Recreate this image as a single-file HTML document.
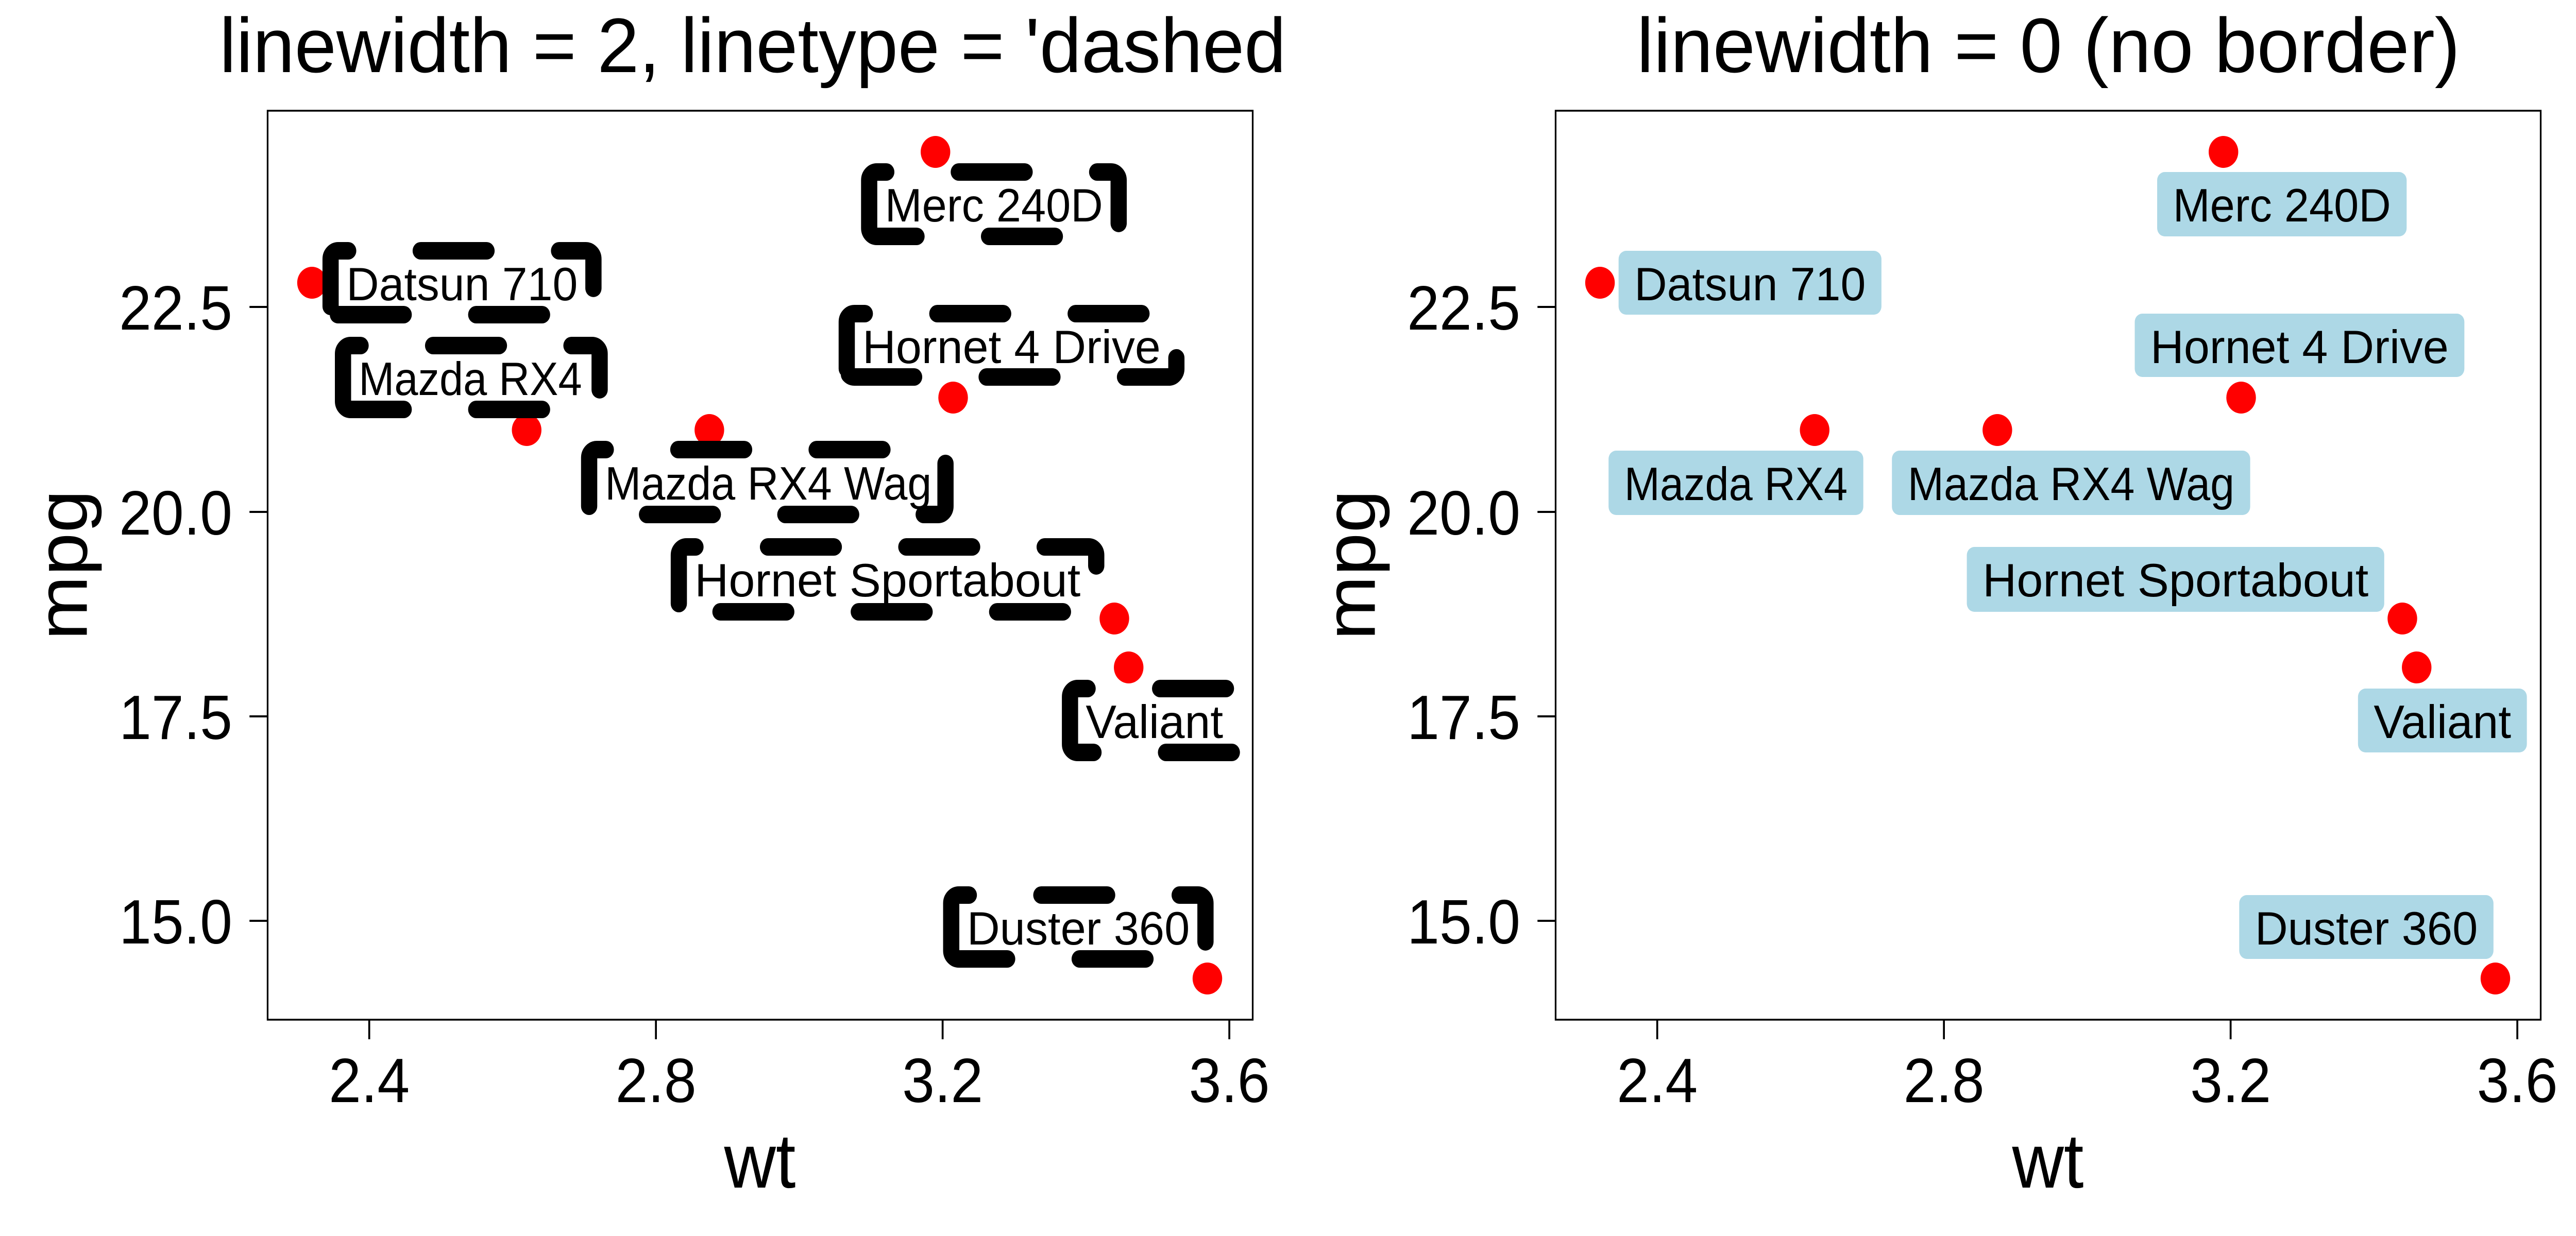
<!DOCTYPE html>
<html><head><meta charset="utf-8"><style>
html,body{margin:0;padding:0;background:#fff;width:100%;height:100%;overflow:hidden;}
svg{display:block;position:fixed;left:0;top:0;width:100vw;height:100vh;}
text{font-family:"Liberation Sans",sans-serif;fill:#000;}
</style></head><body>
<svg viewBox="0 0 5400 2400" preserveAspectRatio="none" xmlns="http://www.w3.org/2000/svg">
<defs>
<clipPath id="lc"><rect x="0" y="0" width="2700" height="2400"/></clipPath>
</defs>
<rect width="5400" height="2400" fill="#fff"/>

<!-- ================= LEFT PANEL ================= -->
<g>
<text x="460" y="140" font-size="150" textLength="2266" lengthAdjust="spacingAndGlyphs" clip-path="url(#lc)">linewidth = 2, linetype = 'dashed'</text>
<rect x="561" y="215" width="2065" height="1765" fill="none" stroke="#000" stroke-width="3.5"/>
<g stroke="#000" stroke-width="4">
<line x1="523" y1="596" x2="561" y2="596"/><line x1="523" y1="994" x2="561" y2="994"/>
<line x1="523" y1="1391" x2="561" y2="1391"/><line x1="523" y1="1788" x2="561" y2="1788"/>
<line x1="774" y1="1980" x2="774" y2="2018"/><line x1="1375" y1="1980" x2="1375" y2="2018"/>
<line x1="1976" y1="1980" x2="1976" y2="2018"/><line x1="2577" y1="1980" x2="2577" y2="2018"/>
</g>
<g font-size="122" text-anchor="end">
<text x="487" y="640">22.5</text><text x="487" y="1038">20.0</text>
<text x="487" y="1435">17.5</text><text x="487" y="1832">15.0</text>
</g>
<g font-size="122" text-anchor="middle">
<text x="774" y="2140">2.4</text><text x="1375" y="2140">2.8</text>
<text x="1976" y="2140">3.2</text><text x="2577" y="2140">3.6</text>
</g>
<text x="1593" y="2306" font-size="150" text-anchor="middle">wt</text>
<text transform="translate(182,1097) rotate(-90)" font-size="150" text-anchor="middle">mpg</text>

<g fill="#f00">
<circle cx="1104" cy="835" r="31"/><circle cx="1487" cy="835" r="31"/>
<circle cx="654" cy="549" r="31"/><circle cx="1998" cy="772" r="31"/>
<circle cx="2336" cy="1201" r="31"/><circle cx="2366" cy="1296" r="31"/>
<circle cx="2531" cy="1900" r="31"/><circle cx="1961" cy="295" r="31"/>
</g>

<g fill="none" stroke="#000" stroke-width="34" stroke-linecap="round" stroke-linejoin="round" stroke-dasharray="138 152">
<path d="M1822,443 V350 A16,16 0 0 1 1838,334 H2329 A16,16 0 0 1 2345,350 V443 A16,16 0 0 1 2329,459 H1838 A16,16 0 0 1 1822,443 Z"/>
<path d="M693,595 V503 A16,16 0 0 1 709,487 H1228 A16,16 0 0 1 1244,503 V595 A16,16 0 0 1 1228,611 H709 A16,16 0 0 1 693,595 Z"/>
<path d="M1775,716 V625 A16,16 0 0 1 1791,609 H2450 A16,16 0 0 1 2466,625 V716 A16,16 0 0 1 2450,732 H1791 A16,16 0 0 1 1775,716 Z"/>
<path d="M719,779 V687 A16,16 0 0 1 735,671 H1241 A16,16 0 0 1 1257,687 V779 A16,16 0 0 1 1241,795 H735 A16,16 0 0 1 719,779 Z"/>
<path d="M1235,983 V889 A16,16 0 0 1 1251,873 H1966 A16,16 0 0 1 1982,889 V983 A16,16 0 0 1 1966,999 H1251 A16,16 0 0 1 1235,983 Z"/>
<path d="M1423,1172 V1078 A16,16 0 0 1 1439,1062 H2282 A16,16 0 0 1 2298,1078 V1172 A16,16 0 0 1 2282,1188 H1439 A16,16 0 0 1 1423,1172 Z"/>
<path d="M2243,1445 V1353 A16,16 0 0 1 2259,1337 H2581 A16,16 0 0 1 2597,1353 V1445 A16,16 0 0 1 2581,1461 H2259 A16,16 0 0 1 2243,1445 Z"/>
<path d="M1994,1846 V1754 A16,16 0 0 1 2010,1738 H2511 A16,16 0 0 1 2527,1754 V1846 A16,16 0 0 1 2511,1862 H2010 A16,16 0 0 1 1994,1846 Z"/>
</g>
<g font-size="91">
<text x="1855" y="430" textLength="457" lengthAdjust="spacingAndGlyphs">Merc 240D</text>
<text x="726" y="583" textLength="485" lengthAdjust="spacingAndGlyphs">Datsun 710</text>
<text x="1808" y="705" textLength="625" lengthAdjust="spacingAndGlyphs">Hornet 4 Drive</text>
<text x="752" y="767" textLength="468" lengthAdjust="spacingAndGlyphs">Mazda RX4</text>
<text x="1268" y="970" textLength="685" lengthAdjust="spacingAndGlyphs">Mazda RX4 Wag</text>
<text x="1456" y="1158" textLength="809" lengthAdjust="spacingAndGlyphs">Hornet Sportabout</text>
<text x="2276" y="1433" textLength="288" lengthAdjust="spacingAndGlyphs">Valiant</text>
<text x="2027" y="1834" textLength="467" lengthAdjust="spacingAndGlyphs">Duster 360</text>
</g>
</g>

<!-- ================= RIGHT PANEL ================= -->
<g transform="translate(2700,0)">
<text x="731" y="140" font-size="150" textLength="1726" lengthAdjust="spacingAndGlyphs">linewidth = 0 (no border)</text>
<rect x="561" y="215" width="2065" height="1765" fill="none" stroke="#000" stroke-width="3.5"/>
<g stroke="#000" stroke-width="4">
<line x1="523" y1="596" x2="561" y2="596"/><line x1="523" y1="994" x2="561" y2="994"/>
<line x1="523" y1="1391" x2="561" y2="1391"/><line x1="523" y1="1788" x2="561" y2="1788"/>
<line x1="774" y1="1980" x2="774" y2="2018"/><line x1="1375" y1="1980" x2="1375" y2="2018"/>
<line x1="1976" y1="1980" x2="1976" y2="2018"/><line x1="2577" y1="1980" x2="2577" y2="2018"/>
</g>
<g font-size="122" text-anchor="end">
<text x="487" y="640">22.5</text><text x="487" y="1038">20.0</text>
<text x="487" y="1435">17.5</text><text x="487" y="1832">15.0</text>
</g>
<g font-size="122" text-anchor="middle">
<text x="774" y="2140">2.4</text><text x="1375" y="2140">2.8</text>
<text x="1976" y="2140">3.2</text><text x="2577" y="2140">3.6</text>
</g>
<text x="1593" y="2306" font-size="150" text-anchor="middle">wt</text>
<text transform="translate(182,1097) rotate(-90)" font-size="150" text-anchor="middle">mpg</text>

<g fill="#f00">
<circle cx="1104" cy="835" r="31"/><circle cx="1487" cy="835" r="31"/>
<circle cx="654" cy="549" r="31"/><circle cx="1998" cy="772" r="31"/>
<circle cx="2336" cy="1201" r="31"/><circle cx="2366" cy="1296" r="31"/>
<circle cx="2531" cy="1900" r="31"/><circle cx="1961" cy="295" r="31"/>
</g>

<g fill="#ADD8E6">
<rect x="1822" y="334" width="523" height="125" rx="16"/>
<rect x="693" y="487" width="551" height="124" rx="16"/>
<rect x="1775" y="609" width="691" height="123" rx="16"/>
<rect x="672" y="875" width="534" height="125" rx="16"/>
<rect x="1266" y="875" width="751" height="125" rx="16"/>
<rect x="1423" y="1062" width="875" height="126" rx="16"/>
<rect x="2243" y="1337" width="354" height="124" rx="16"/>
<rect x="1994" y="1738" width="533" height="124" rx="16"/>
</g>
<g font-size="91">
<text x="1855" y="430" textLength="457" lengthAdjust="spacingAndGlyphs">Merc 240D</text>
<text x="726" y="583" textLength="485" lengthAdjust="spacingAndGlyphs">Datsun 710</text>
<text x="1808" y="705" textLength="625" lengthAdjust="spacingAndGlyphs">Hornet 4 Drive</text>
<text x="705" y="971" textLength="468" lengthAdjust="spacingAndGlyphs">Mazda RX4</text>
<text x="1299" y="971" textLength="685" lengthAdjust="spacingAndGlyphs">Mazda RX4 Wag</text>
<text x="1456" y="1158" textLength="809" lengthAdjust="spacingAndGlyphs">Hornet Sportabout</text>
<text x="2276" y="1433" textLength="288" lengthAdjust="spacingAndGlyphs">Valiant</text>
<text x="2027" y="1834" textLength="467" lengthAdjust="spacingAndGlyphs">Duster 360</text>
</g>
</g>
</svg>
</body></html>
